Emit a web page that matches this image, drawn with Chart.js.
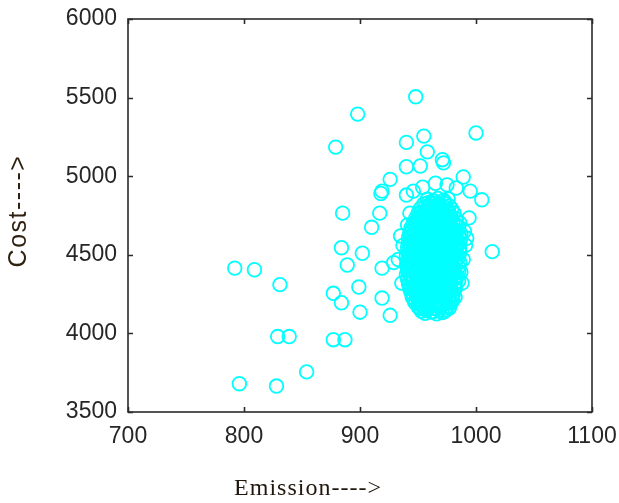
<!DOCTYPE html>
<html>
<head>
<meta charset="utf-8">
<script src="https://cdn.jsdelivr.net/npm/chart.js@4"></script>
<style>
  body { margin: 0; background: #fff; }
</style>
</head>
<body>
<canvas id="myChart" width="619" height="503"></canvas>
<script>
/*----data----*/
const xTicks = [700, 800, 900, 1000, 1100];
const yTicks = [3500, 4000, 4500, 5000, 5500, 6000];

// scattered solutions away from the main cloud [emission, cost]
const outliers = [
  [948,5505],[1000,5275],[898,5395],[879,5185],[940,5215],[955,5255],[958,5155],
  [971,5105],[972,5085],[940,5060],[952,5065],[926,4980],[918,4890],[919,4905],
  [940,4880],[917,4765],[885,4765],[910,4675],[884,4545],[902,4510],[889,4435],
  [919,4415],[929,4450],[899,4295],[877,4255],[884,4195],[919,4225],[900,4135],
  [926,4115],[877,3960],[887,3960],[1014,4520],[989,4995],[1005,4850],[995,4905],
  [792,4415],[809,4405],[831,4310],[796,3680],[828,3665],[829,3980],[839,3980],
  [854,3755]
];

// rings hugging the edge of the cloud
const fringe = [
  [943,4765],[941,4690],[936,4320],[933,4470],[988,4320],[982,4230],[992,4605],
  [994,4735],[990,4650],[991,4560],[989,4470],[987,4390],[954,4930],[965,4955],
  [975,4945],[983,4925],[946,4905],[937,4560],[935,4620]
];

// dense cloud of solutions
const cluster = [
  [956,4128],[961,4136],[966,4124],[971,4133],
  [951,4163],[955,4154],[960,4168],[964,4158],[969,4165],[974,4151],[977,4162],
  [948,4193],[952,4184],[957,4198],[961,4188],[966,4195],[970,4181],[975,4191],[979,4197],
  [946,4223],[950,4214],[955,4228],[959,4218],[963,4225],[968,4211],[972,4221],[977,4227],[980,4216],
  [945,4253],[949,4244],[953,4258],[958,4248],[962,4255],[967,4241],[971,4251],[975,4257],[980,4246],
  [943,4283],[947,4274],[952,4288],[956,4278],[961,4285],[965,4271],[970,4281],[974,4287],[978,4276],[982,4282],
  [942,4313],[946,4304],[951,4318],[955,4308],[960,4315],[964,4301],[969,4311],[973,4317],[977,4306],[982,4312],
  [941,4343],[945,4334],[950,4348],[954,4338],[959,4345],[963,4331],[968,4341],[972,4347],[976,4336],[981,4342],[985,4333],
  [940,4373],[944,4364],[949,4378],[953,4368],[958,4375],[962,4361],[967,4371],[971,4377],[975,4366],[980,4372],[984,4363],
  [941,4403],[945,4394],[950,4408],[954,4398],[959,4405],[963,4391],[968,4401],[972,4407],[977,4396],[981,4402],[985,4393],
  [940,4433],[944,4424],[949,4438],[953,4428],[958,4435],[962,4421],[967,4431],[971,4437],[976,4426],[980,4432],[985,4423],
  [941,4463],[946,4454],[950,4468],[955,4458],[959,4465],[964,4451],[968,4461],[973,4467],[977,4456],[982,4462],[986,4453],
  [940,4493],[944,4484],[948,4498],[953,4488],[957,4495],[962,4481],[966,4491],[971,4497],[975,4486],[980,4492],[985,4483],
  [941,4523],[945,4514],[950,4528],[954,4518],[959,4525],[963,4511],[968,4521],[972,4527],[977,4516],[981,4522],[986,4513],
  [941,4553],[946,4544],[950,4558],[955,4548],[959,4555],[964,4541],[968,4551],[973,4557],[977,4546],[982,4552],[986,4543],
  [942,4583],[946,4574],[951,4588],[955,4578],[960,4585],[964,4571],[969,4581],[973,4587],[978,4576],[982,4582],[986,4573],
  [942,4613],[947,4604],[951,4618],[956,4608],[960,4615],[965,4601],[969,4611],[974,4617],[978,4606],[983,4612],[987,4603],
  [943,4643],[947,4634],[952,4648],[956,4638],[961,4645],[965,4631],[970,4641],[974,4647],[979,4636],[983,4642],[987,4633],
  [944,4673],[949,4664],[953,4678],[958,4668],[962,4675],[967,4661],[971,4671],[976,4677],[980,4666],[985,4672],
  [946,4703],[950,4694],[955,4708],[959,4698],[964,4705],[968,4691],[973,4701],[977,4707],[982,4696],[986,4702],
  [948,4733],[952,4724],[957,4738],[961,4728],[966,4735],[970,4721],[975,4731],[979,4737],[983,4726],
  [950,4763],[954,4754],[959,4768],[963,4758],[968,4765],[972,4751],[977,4761],[981,4767],
  [952,4793],[957,4784],[961,4798],[966,4788],[970,4795],[975,4781],[979,4791],
  [955,4823],[959,4814],[964,4828],[968,4818],[973,4825],[977,4811],
  [958,4853],[963,4844],[967,4858],[972,4848],[976,4855]
];

// more solutions packed between the rows above
const clusterInner = [
  [953,4141],[958,4151],[963,4137],[968,4147],[973,4140],
  [950,4171],[954,4181],[959,4167],[963,4177],[968,4170],[972,4184],[976,4174],
  [947,4201],[951,4211],[956,4197],[960,4207],[965,4200],[969,4214],[974,4204],[978,4198],
  [945,4231],[949,4241],[954,4227],[958,4237],[963,4230],[967,4244],[972,4234],[976,4228],[980,4239],
  [944,4261],[948,4271],[953,4257],[957,4267],[962,4260],[966,4274],[971,4264],[975,4258],[979,4269],
  [943,4291],[947,4301],[952,4287],[956,4297],[961,4290],[965,4304],[970,4294],[974,4288],[978,4299],[982,4293],
  [942,4321],[946,4331],[951,4317],[955,4327],[960,4320],[964,4334],[969,4324],[973,4318],[977,4329],[982,4323],
  [941,4351],[945,4361],[950,4347],[954,4357],[959,4350],[963,4364],[968,4354],[972,4348],[977,4359],[982,4353],
  [942,4381],[946,4391],[951,4377],[955,4387],[960,4380],[964,4394],[969,4384],[973,4378],[978,4389],[982,4383],
  [941,4411],[945,4421],[950,4407],[954,4417],[959,4410],[963,4424],[968,4414],[972,4408],[977,4419],[981,4413],
  [942,4441],[946,4451],[951,4437],[955,4447],[960,4440],[964,4454],[969,4444],[973,4438],[978,4449],[982,4443],
  [942,4471],[946,4481],[951,4467],[955,4477],[960,4470],[964,4484],[969,4474],[973,4468],[978,4479],[983,4473],
  [942,4501],[946,4511],[951,4497],[955,4507],[960,4500],[964,4514],[969,4504],[973,4498],[978,4509],[983,4503],
  [943,4531],[947,4541],[952,4527],[956,4537],[961,4530],[965,4544],[970,4534],[974,4528],[979,4539],[983,4533],
  [943,4561],[947,4571],[952,4557],[956,4567],[961,4560],[965,4574],[970,4564],[974,4558],[979,4569],[984,4563],
  [944,4591],[948,4601],[953,4587],[957,4597],[962,4590],[966,4604],[971,4594],[975,4588],[980,4599],[984,4593],
  [944,4621],[949,4631],[953,4617],[958,4627],[962,4620],[967,4634],[971,4624],[976,4618],[980,4629],[985,4623],
  [945,4651],[950,4661],[954,4647],[959,4657],[963,4650],[968,4664],[972,4654],[977,4648],[981,4659],
  [947,4681],[951,4691],[956,4677],[960,4687],[965,4680],[969,4694],[974,4684],[978,4678],[983,4689],
  [949,4711],[953,4721],[958,4707],[962,4717],[967,4710],[971,4724],[976,4714],[980,4708],
  [951,4741],[955,4751],[960,4737],[964,4747],[969,4740],[973,4754],[978,4744],
  [953,4771],[957,4781],[962,4767],[966,4777],[971,4770],[976,4784],
  [956,4801],[960,4811],[965,4797],[969,4807],[974,4800],
  [959,4831],[964,4841],[968,4827],[973,4837]
];

const points = outliers.concat(fringe, cluster, clusterInner).map(p => ({x: p[0], y: p[1]}));

/*----box, inward ticks and axis titles----*/
const boxTicks = {
  id: 'boxTicks',
  afterDraw(chart) {
    const ctx = chart.ctx;
    const a = chart.chartArea;
    const x = chart.scales.x;
    const y = chart.scales.y;
    ctx.save();
    ctx.strokeStyle = '#2b2b2b';
    ctx.lineWidth = 1.6;
    ctx.strokeRect(a.left, a.top, a.right - a.left, a.bottom - a.top);
    ctx.beginPath();
    xTicks.forEach(v => {
      const px = Math.round(x.getPixelForValue(v)) + 0.5;
      ctx.moveTo(px, a.bottom); ctx.lineTo(px, a.bottom - 5);
      ctx.moveTo(px, a.top); ctx.lineTo(px, a.top + 5);
    });
    yTicks.forEach(v => {
      const py = Math.round(y.getPixelForValue(v)) + 0.5;
      ctx.moveTo(a.left, py); ctx.lineTo(a.left + 5, py);
      ctx.moveTo(a.right, py); ctx.lineTo(a.right - 5, py);
    });
    ctx.stroke();

    ctx.textAlign = 'center';
    ctx.textBaseline = 'middle';
    ctx.fillStyle = '#20170d';
    ctx.font = '24px "Liberation Serif"';
    ctx.letterSpacing = '1px';
    ctx.fillText('Emission---->', 308, 489);
    ctx.translate(19, 211);
    ctx.rotate(-Math.PI / 2);
    ctx.fillStyle = '#2e2110';
    ctx.font = '25px "Liberation Sans"';
    ctx.letterSpacing = '1.5px';
    ctx.fillText('Cost---->', 0, 0);
    ctx.restore();
  }
};

/*----chart----*/
new Chart("myChart", {
  type: "scatter",
  data: {
    datasets: [{
      data: points,
      pointStyle: "circle",
      pointRadius: 6.8,
      pointHoverRadius: 6.8,
      borderWidth: 1.8,
      borderColor: "#00ffff",
      backgroundColor: "rgba(0,0,0,0)"
    }]
  },
  options: {
    responsive: false,
    animation: false,
    devicePixelRatio: 1,
    layout: {padding: {left: 0, right: 27, top: 19, bottom: 0}},
    plugins: {legend: {display: false}, tooltip: {enabled: false}},
    scales: {
      x: {
        type: "linear",
        min: 700, max: 1100,
        afterFit: s => { s.height = 91; s.paddingLeft = 0; s.paddingRight = 0; },
        afterBuildTicks: s => { s.ticks = xTicks.map(v => ({value: v})); },
        grid: {display: false, drawTicks: false},
        border: {display: false},
        ticks: {padding: 11, maxRotation: 0, color: "#262626", font: {family: "Liberation Sans", size: 23},
                callback: v => String(v)}
      },
      y: {
        type: "linear",
        min: 3500, max: 6000,
        afterFit: s => { s.width = 128; s.paddingTop = 0; s.paddingBottom = 0; },
        afterBuildTicks: s => { s.ticks = yTicks.map(v => ({value: v})); },
        grid: {display: false, drawTicks: false},
        border: {display: false},
        ticks: {padding: 11, color: "#262626", font: {family: "Liberation Sans", size: 23},
                callback: v => String(v)}
      }
    }
  },
  plugins: [boxTicks]
});
</script>
</body>
</html>
